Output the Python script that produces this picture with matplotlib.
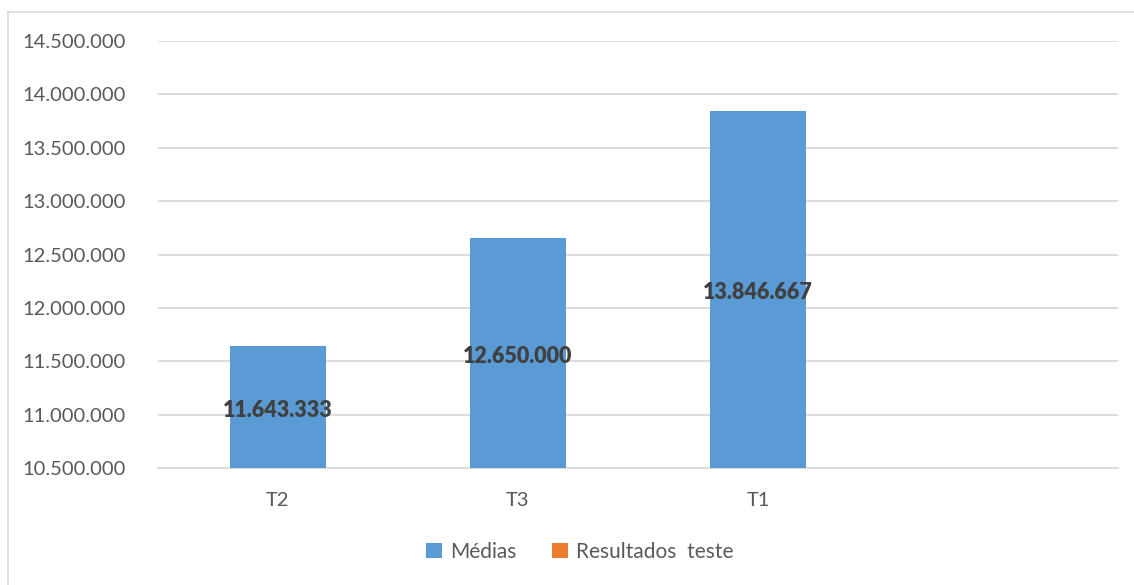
import matplotlib
matplotlib.use("Agg")
import matplotlib.pyplot as plt
from matplotlib.patches import Patch
from matplotlib.lines import Line2D
from matplotlib.ticker import FuncFormatter, MultipleLocator

categories = ["T2", "T3", "T1", ""]
medias = [11643333, 12650000, 13846667, None]
resultados_teste = []

blue = "#5B9BD5"
orange = "#ED7D31"
text_gray = "#595959"
label_gray = "#404040"
grid_gray = "#D9D9D9"

plt.rcParams["font.family"] = ["Lato", "DejaVu Sans"]

W, H = 1134, 585
fig = plt.figure(figsize=(W / 100, H / 100), dpi=100)
ax = fig.add_axes([158 / W, 1 - 468 / H, 960 / W, 427 / H])

x = list(range(len(categories)))
xs = [i for i, v in zip(x, medias) if v is not None]
vals = [v for v in medias if v is not None]
ymin, ymax = 10500000, 14500000
bars = ax.bar(xs, [v - ymin for v in vals], bottom=ymin, width=0.4, color=blue, zorder=3)

for xi, v in zip(xs, vals):
    label = f"{v:,.0f}".replace(",", ".")
    ax.text(xi, (ymin + v) / 2 - 30000, label, ha="center", va="center",
            fontsize=15.5, fontweight="heavy", color=label_gray, zorder=4)

ax.set_xlim(-0.5, len(categories) - 0.5)
ax.set_ylim(ymin, ymax)
ax.yaxis.set_major_locator(MultipleLocator(500000))
ax.yaxis.set_major_formatter(FuncFormatter(lambda v, p: f"{v:,.0f}".replace(",", ".")))
ax.set_xticks(x)
ax.set_xticklabels(categories)
ax.grid(axis="y", color=grid_gray, linewidth=1.3, zorder=0)
ax.set_axisbelow(True)
for s in ["top", "right", "left"]:
    ax.spines[s].set_visible(False)
ax.spines["bottom"].set_color(grid_gray)
ax.spines["bottom"].set_linewidth(1.3)
ax.tick_params(axis="both", length=0, labelsize=14.5, colors=text_gray)
ax.tick_params(axis="y", pad=23)
ax.tick_params(axis="x", pad=17)

handles = [Patch(facecolor=blue, label="Médias"),
           Patch(facecolor=orange, label="Resultados  teste")]
fig.legend(handles=handles, loc="center", bbox_to_anchor=(580 / W, 1 - 552 / H),
           ncol=2, frameon=False, fontsize=15, labelcolor=text_gray,
           handlelength=0.75, handleheight=0.75, handletextpad=0.4, columnspacing=1.7)

# outer chart border
fig.add_artist(Line2D([8 / W, 1.0], [1 - 12 / H, 1 - 12 / H], color=grid_gray, linewidth=1.2))
fig.add_artist(Line2D([8 / W, 8 / W], [0.0, 1 - 12 / H], color=grid_gray, linewidth=1.2))

fig.savefig("out.png", dpi=100, facecolor="white")
